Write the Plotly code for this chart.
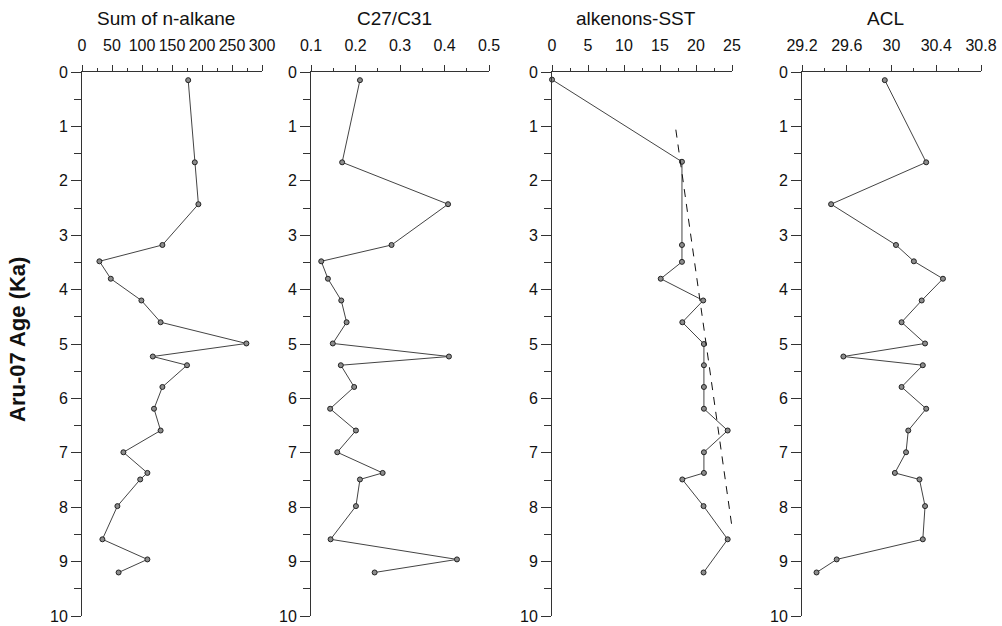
import plotly.graph_objects as go

# ---- data ----
age = [0.15, 1.66, 2.43, 3.18, 3.48, 3.80, 4.20, 4.60, 4.99, 5.23, 5.39,
       5.79, 6.19, 6.59, 6.99, 7.37, 7.49, 7.98, 8.59, 8.96, 9.20]
sum_alkane = [177, 188, 194, 134, 29, 48, 99, 131, 274, 118, 175,
              134, 120, 131, 69, 109, 97, 59, 34, 109, 61]
c27_c31 = [0.21, 0.170, 0.408, 0.281, 0.123, 0.138, 0.168, 0.180, 0.149, 0.410, 0.167,
           0.197, 0.143, 0.201, 0.159, 0.261, 0.210, 0.201, 0.144, 0.428, 0.243]
acl = [29.94, 30.31, 29.46, 30.04, 30.20, 30.46, 30.27, 30.09, 30.30, 29.57, 30.28,
       30.09, 30.31, 30.15, 30.13, 30.03, 30.25, 30.30, 30.28, 29.51, 29.33]

age_sst = [0.14, 1.65, 3.18, 3.49, 3.80, 4.20, 4.60, 5.00, 5.39, 5.79, 6.19,
           6.59, 6.99, 7.37, 7.49, 7.98, 8.59, 9.20]
sst = [0, 18.05, 18.05, 18.05, 15.1, 21.0, 18.1, 21.1, 21.1, 21.1, 21.1,
       24.4, 21.1, 21.1, 18.1, 21.05, 24.4, 21.05]
trend_age = [1.06, 9.21]
trend_sst = [17.2, 25.9]

titles = ["Sum of n-alkane", "C27/C31", "alkenons-SST", "ACL"]
x_ranges = [[0, 300], [0.1, 0.5], [0, 25], [29.2, 30.8]]
x_dticks = [50, 0.1, 5, 0.4]
x_minor = [25, 0.05, 2.5, 0.2]
x_ticktext = [None, None, None, ["29.2", "29.6", "30", "30.4", "30.8"]]
y_tickvals = list(range(0, 11))

# ---- layout geometry (pixels) ----
W, H = 1002, 626
x_px = [(82, 262), (311, 489), (552, 732), (802, 981)]
y_top, y_bot = 72, 616

font = "Liberation Sans, Arial, sans-serif"
fig = go.Figure()

line_c = "#333333"
mk = dict(symbol="circle", size=5, color="#8c8c8c", line=dict(color="#222222", width=1))

series = [(sum_alkane, age), (c27_c31, age), (sst, age_sst), (acl, age)]
for i, (xv, yv) in enumerate(series):
    sfx = "" if i == 0 else str(i + 1)
    fig.add_trace(go.Scatter(x=xv, y=yv, mode="lines+markers",
                             line=dict(color="#444444", width=1), marker=mk,
                             xaxis="x" + sfx, yaxis="y" + sfx, showlegend=False,
                             cliponaxis=False))
    if i == 2:
        fig.add_trace(go.Scatter(x=trend_sst, y=trend_age, mode="lines",
                                 line=dict(color="#111111", width=1, dash="8px,7px"),
                                 xaxis="x3", yaxis="y3", showlegend=False))

layout = {}
for i in range(4):
    sfx = "" if i == 0 else str(i + 1)
    x0, x1 = x_px[i]
    xa = dict(domain=[x0 / W, x1 / W], range=x_ranges[i], side="top",
              anchor="y" + sfx, showline=True, linecolor=line_c, linewidth=1,
              ticks="outside", ticklen=6, tickwidth=1, tickcolor=line_c,
              dtick=x_dticks[i], tick0=x_ranges[i][0], ticklabelstandoff=8,
              minor=dict(ticks="outside", ticklen=3, dtick=x_minor[i],
                         tickcolor=line_c, tickwidth=1, showgrid=False),
              showgrid=False, zeroline=False,
              tickfont=dict(family=font, size=16, color="#111111"),
              fixedrange=True)
    if x_ticktext[i] is not None:
        xa["tickmode"] = "array"
        xa["tickvals"] = [float(t) for t in x_ticktext[i]]
        xa["ticktext"] = x_ticktext[i]
    ya = dict(domain=[1 - y_bot / H, 1 - y_top / H], range=[10, 0],
              anchor="x" + sfx, showline=True, linecolor=line_c, linewidth=1,
              ticks="outside", ticklen=10, tickwidth=1, tickcolor=line_c,
              tickmode="array", tickvals=y_tickvals,
              minor=dict(ticks="outside", ticklen=7, dtick=0.5,
                         tickcolor=line_c, tickwidth=1, showgrid=False),
              showgrid=False, zeroline=False,
              tickfont=dict(family=font, size=16, color="#111111"),
              fixedrange=True)
    layout["xaxis" + sfx] = xa
    layout["yaxis" + sfx] = ya

annotations = []
for i in range(4):
    x0, x1 = x_px[i]
    annotations.append(dict(text=titles[i], x=((x0 + x1) / 2 - 6) / W, y=1 - 18 / H,
                            xref="paper", yref="paper", showarrow=False,
                            xanchor="center", yanchor="middle",
                            font=dict(family=font, size=19, color="#111111")))
annotations.append(dict(text="<b>Aru-07 Age (Ka)</b>", x=18 / W, y=1 - 340 / H,
                        xref="paper", yref="paper", showarrow=False, textangle=-90,
                        xanchor="center", yanchor="middle",
                        font=dict(family=font, size=22, color="#111111")))

fig.update_layout(**layout, annotations=annotations, width=W, height=H,
                  margin=dict(l=0, r=0, t=0, b=0, autoexpand=False),
                  paper_bgcolor="white", plot_bgcolor="white")
fig.write_html("out.html")
